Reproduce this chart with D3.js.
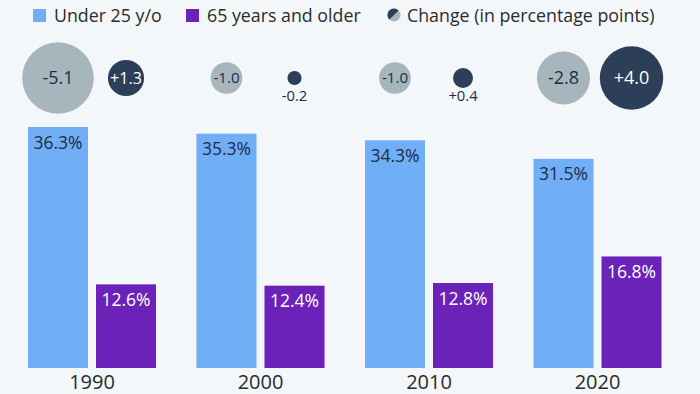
<!DOCTYPE html>
<html>
<head>
<meta charset="utf-8">
<script src="https://cdn.jsdelivr.net/npm/d3@7"></script>
<style>
    body { margin: 0; background: #f4f7fa; }
    svg { display: block; font-family: "Open Sans", "Noto Sans", sans-serif; }
</style>
</head>
<body>
<div class="chart-wrapper"></div>
<script>
var years = ["1990", "2000", "2010", "2020"];
var seriesKeys = ["under25", "over65"];
var seriesNames = ["Under 25 y/o", "65 years and older"];
var under25 = [36.3, 35.3, 34.3, 31.5];
var over65 = [12.6, 12.4, 12.8, 16.8];
var changeUnder25 = [-5.1, -1.0, -1.0, -2.8];
var changeOver65 = [1.3, -0.2, 0.4, 4.0];

var colors = {under25: "#70aef5", over65: "#6a22b8"};
var bubbleColors = {under25: "#a7b5bd", over65: "#2c3e58"};

drawChart();

//------------------------------------------------------------------
function drawChart() {
    var Svgwidth = 700, Svgheight = 394;
    var baseline = 368;

    var svg = d3.select(".chart-wrapper").append("svg")
            .attr("width", Svgwidth)
            .attr("height", Svgheight)
            .style("background-color", "#f4f7fa");

    var rows = years.map(function (y, i) {
        return {
            year: y,
            under25: under25[i], over65: over65[i],
            chg: {under25: changeUnder25[i], over65: changeOver65[i]}
        };
    });

    var x0 = d3.scaleBand()
            .domain(years)
            .range([7.75, 681.75])
            .paddingInner(0.24)
            .paddingOuter(0.12);
    var x1 = d3.scaleBand()
            .domain(seriesKeys)
            .range([0, x0.bandwidth()])
            .paddingInner(8 / 68);
    var y = d3.scaleLinear()
            .domain([0, 36.3])
            .range([baseline, baseline - 241]);
    var r = d3.scaleSqrt()
            .domain([0, 5.1])
            .range([0, 35.8]);

    // legend
    var legend = svg.append("g").attr("class", "legend");
    var lx = [33, 186];
    seriesKeys.forEach(function (k, i) {
        legend.append("rect")
                .attr("x", lx[i]).attr("y", 9)
                .attr("width", 13).attr("height", 13)
                .style("fill", colors[k]);
        legend.append("text")
                .attr("x", lx[i] + 21).attr("y", 22)
                .style("font-size", "17.8px")
                .style("fill", "#2b2b2b")
                .text(seriesNames[i]);
    });
    var icon = legend.append("g").attr("transform", "translate(394,15)");
    icon.append("circle").attr("r", 6.5).style("fill", bubbleColors.under25);
    icon.append("path")
            .attr("d", d3.arc()({innerRadius: 0, outerRadius: 6.5, startAngle: -Math.PI * 3 / 4, endAngle: Math.PI / 4}))
            .style("fill", bubbleColors.over65);
    legend.append("text")
            .attr("x", 407).attr("y", 22)
            .style("font-size", "17.8px")
            .style("fill", "#2b2b2b")
            .text("Change (in percentage points)");

    var groups = svg.selectAll(".group")
            .data(rows)
            .enter().append("g")
            .attr("class", "group")
            .attr("transform", function (d) {
                return "translate(" + x0(d.year) + ",0)";
            });

    // bars
    groups.selectAll("rect.bar")
            .data(function (d) {
                return seriesKeys.map(function (k) { return {key: k, value: d[k]}; });
            })
            .enter().append("rect")
            .attr("class", "bar")
            .attr("x", function (d) { return x1(d.key); })
            .attr("y", function (d) { return y(d.value); })
            .attr("width", x1.bandwidth())
            .attr("height", function (d) { return baseline - y(d.value); })
            .style("fill", function (d) { return colors[d.key]; });

    groups.selectAll("text.barlabel")
            .data(function (d) {
                return seriesKeys.map(function (k) { return {key: k, value: d[k]}; });
            })
            .enter().append("text")
            .attr("class", "barlabel")
            .attr("x", function (d) { return x1(d.key) + x1.bandwidth() / 2; })
            .attr("y", function (d) { return y(d.value) + 21.5; })
            .attr("text-anchor", "middle")
            .style("font-size", "17.5px")
            .style("fill", function (d) { return d.key == "under25" ? "#1c2d45" : "#ffffff"; })
            .text(function (d) { return d.value.toFixed(1) + "%"; });

    // change bubbles
    var bub = groups.selectAll("g.bubble")
            .data(function (d) {
                return seriesKeys.map(function (k) { return {key: k, value: d.chg[k]}; });
            })
            .enter().append("g")
            .attr("class", "bubble")
            .attr("transform", function (d) {
                return "translate(" + (x1(d.key) + x1.bandwidth() / 2) + ",78)";
            });
    bub.append("circle")
            .attr("r", function (d) { return r(Math.abs(d.value)); })
            .style("fill", function (d) { return bubbleColors[d.key]; });
    bub.append("text")
            .attr("text-anchor", "middle")
            .attr("y", function (d) {
                var rr = r(Math.abs(d.value));
                return rr < 13 ? 23 : 0;
            })
            .attr("dy", function (d) {
                return r(Math.abs(d.value)) < 13 ? null : "0.36em";
            })
            .style("font-size", function (d) {
                var rr = r(Math.abs(d.value));
                return rr < 13 ? "14.8px" : Math.min(18, 8 + 0.45 * rr) + "px";
            })
            .style("fill", function (d) {
                var rr = r(Math.abs(d.value));
                if (rr < 13) return "#1c2d45";
                return d.key == "over65" ? "#ffffff" : "#1c2d45";
            })
            .text(function (d) { return (d.value > 0 ? "+" : "") + d.value.toFixed(1); });

    // year axis
    svg.append("g")
            .attr("class", "axis axis--x")
            .attr("transform", "translate(0," + baseline + ")")
            .call(d3.axisBottom(x0).tickSize(0).tickPadding(5))
            .call(function (g) { g.select(".domain").remove(); })
            .selectAll("text")
            .attr("dy", null)
            .attr("y", 20.5)
            .style("font-family", "'Open Sans', sans-serif")
            .style("font-size", "20px")
            .style("fill", "#2b2b2b");
}
</script>
</body>
</html>
